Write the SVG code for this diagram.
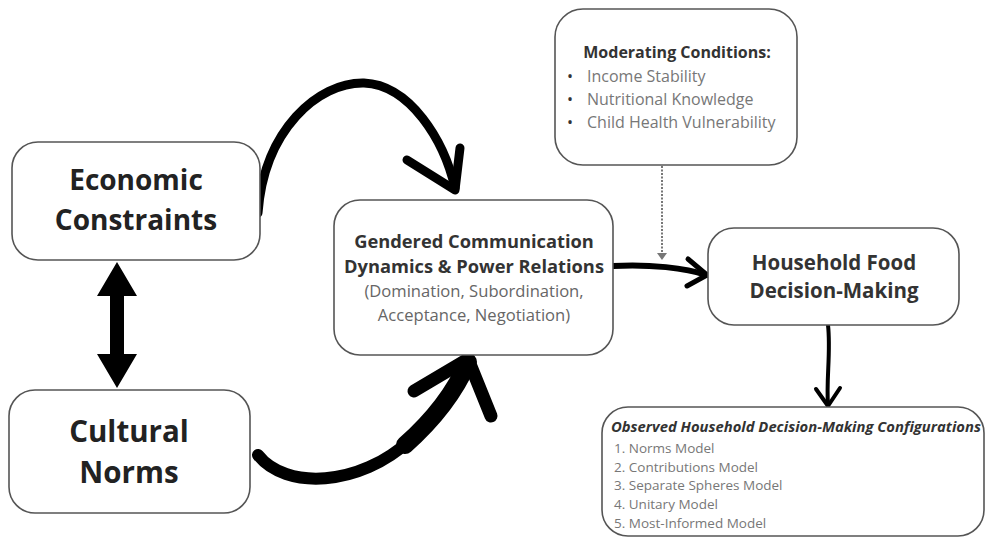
<svg xmlns="http://www.w3.org/2000/svg" width="989" height="539" viewBox="0 0 989 539">
<style>
.box{fill:#fff;stroke:#555;stroke-width:1.6}
.big{font-family:"Open Sans","DejaVu Sans",sans-serif;font-weight:bold;fill:#222;text-anchor:middle}
.mid{font-family:"Open Sans","DejaVu Sans",sans-serif;font-weight:bold;fill:#333;text-anchor:middle}
.sub{font-family:"Open Sans","DejaVu Sans",sans-serif;fill:#666;text-anchor:middle}
.item{font-family:"Open Sans","DejaVu Sans",sans-serif;fill:#777}
.ink{fill:none;stroke:#000;stroke-linecap:round;stroke-linejoin:round}
</style>
<rect width="989" height="539" fill="#fff"/>
<g id="connectors">
  <polygon points="117,262 137,296 124,296 124,354 137,354 117,388 97,354 110,354 110,296 97,296" fill="#000"/>
  <path class="ink" d="M258,213 C264,130 318,82 364,83 C410,85 444,140 455,188" stroke-width="9"/>
  <path class="ink" d="M407,160 L455,190 L460,148" stroke-width="9"/>
  <path class="ink" d="M258,455 C285,490 360,487 410,440" stroke-width="12"/>
  <path class="ink" d="M405,445 C440,414 458,385 468,362" stroke-width="18"/>
  <path class="ink" d="M414,391 L468,359 L491,416" stroke-width="13"/>
  <path class="ink" d="M613,266 C650,264 686,268 706,275" stroke-width="6"/>
  <path class="ink" d="M688,259 L707,275 L687,286" stroke-width="5"/>
  <line x1="662" y1="166" x2="662" y2="254" stroke="#777" stroke-width="2" stroke-dasharray="2,1.5"/>
  <polygon points="657,253 667,253 662,260" fill="#777"/>
  <path class="ink" d="M828,325 C831,352 826,380 828,405" stroke-width="4"/>
  <path class="ink" d="M816,389 L828,406 L840,388" stroke-width="4"/>
</g>
<g id="economic">
  <rect class="box" x="12" y="142" width="248" height="118" rx="26"/>
  <text class="big" x="136" y="190" font-size="28">Economic</text>
  <text class="big" x="136" y="230" font-size="28">Constraints</text>
</g>
<g id="cultural">
  <rect class="box" x="9" y="390" width="241" height="123" rx="26"/>
  <text class="big" x="129" y="442" font-size="29.5">Cultural</text>
  <text class="big" x="129" y="483" font-size="29.5">Norms</text>
</g>
<g id="gendered">
  <rect class="box" x="334" y="200" width="279" height="155" rx="26"/>
  <text class="mid" x="474" y="248" font-size="18.3">Gendered Communication</text>
  <text class="mid" x="474" y="273" font-size="18.3">Dynamics &amp; Power Relations</text>
  <text class="sub" x="474" y="297" font-size="16.6">(Domination, Subordination,</text>
  <text class="sub" x="474" y="321" font-size="16.6">Acceptance, Negotiation)</text>
</g>
<g id="moderating">
  <rect class="box" x="555" y="9" width="242" height="156" rx="28"/>
  <text class="mid" x="677" y="58" font-size="16">Moderating Conditions:</text>
  <g class="item" font-size="16">
    <text x="567" y="82" fill="#333">•</text><text x="587" y="82">Income Stability</text>
    <text x="567" y="105" fill="#333">•</text><text x="587" y="105">Nutritional Knowledge</text>
    <text x="567" y="128" fill="#333">•</text><text x="587" y="128">Child Health Vulnerability</text>
  </g>
</g>
<g id="household">
  <rect class="box" x="708" y="228" width="251" height="97" rx="26"/>
  <text class="mid" x="834" y="270" font-size="20.5">Household Food</text>
  <text class="mid" x="834" y="298" font-size="20.5">Decision-Making</text>
</g>
<g id="observed">
  <rect class="box" x="602" y="407" width="382" height="129" rx="26"/>
  <text x="611" y="432" font-family="'Open Sans','DejaVu Sans',sans-serif" font-weight="bold" font-style="italic" font-size="14.8" fill="#333">Observed Household Decision-Making Configurations</text>
  <g class="item" font-size="13.5">
    <text x="614" y="453">1. Norms Model</text>
    <text x="614" y="472">2. Contributions Model</text>
    <text x="614" y="490">3. Separate Spheres Model</text>
    <text x="614" y="509">4. Unitary Model</text>
    <text x="614" y="528">5. Most-Informed Model</text>
  </g>
</g>
</svg>
